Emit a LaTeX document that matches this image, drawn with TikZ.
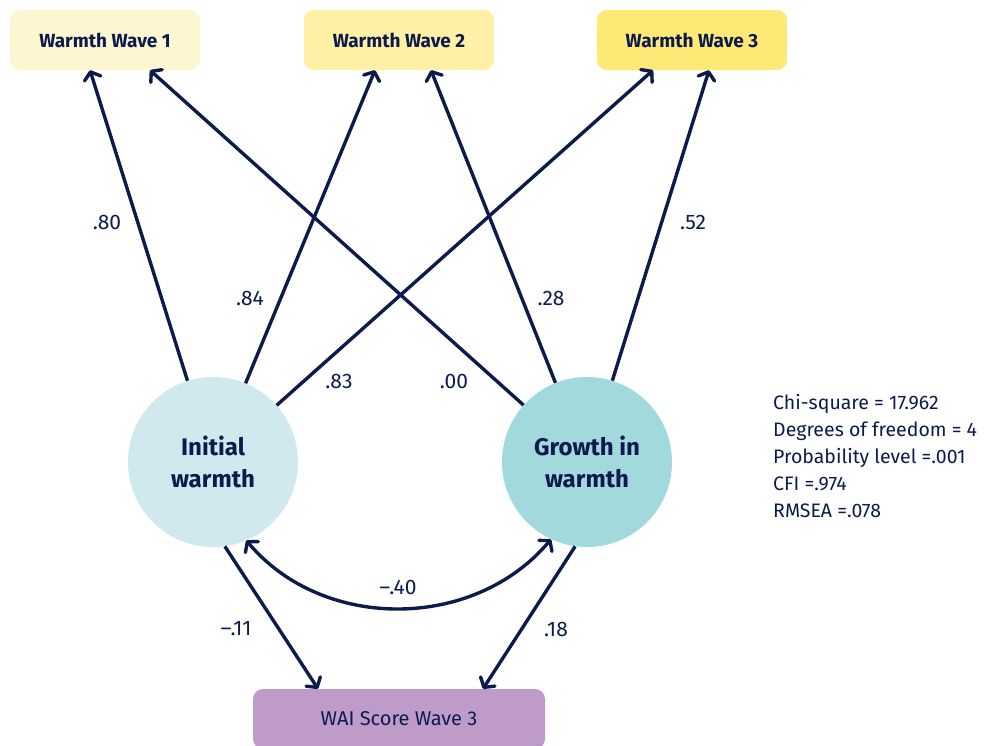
\documentclass[tikz,border=0pt]{standalone}
\usepackage{fontspec}
\setmainfont{Fira Sans}
\usepackage{xcolor}
\usetikzlibrary{arrows.meta, positioning}
\definecolor{navy}{HTML}{0D1B4C}
\definecolor{waveA}{HTML}{FDF7D1}
\definecolor{waveB}{HTML}{FEF0A4}
\definecolor{waveC}{HTML}{FEE876}
\definecolor{initc}{HTML}{D0E9EE}
\definecolor{growc}{HTML}{A1D9DC}
\definecolor{waic}{HTML}{BF9BC9}

\begin{document}
\begin{tikzpicture}[x=1pt, y=-1pt,
    wave/.style={rounded corners=10pt, minimum width=190pt, minimum height=60pt, text=navy,
        font=\fontsize{19}{22}\selectfont\bfseries},
    latent/.style={circle, minimum size=170pt, inner sep=0pt, align=center, text=navy,
        font=\fontsize{24}{32}\selectfont\bfseries},
    link/.style={draw=navy, line width=3.4pt, -{Straight Barb[length=7pt, width=17pt, round]}},
    coef/.style={text=navy, font=\fontsize{21}{24}\selectfont}]
    \useasboundingbox (0,0) rectangle (985,745);

    % Indicatori
    \node[wave, fill=waveA] (wave1) at (105,40) {Warmth Wave 1};
    \node[wave, fill=waveB] (wave2) at (399,40) {Warmth Wave 2};
    \node[wave, fill=waveC] (wave3) at (692,40) {Warmth Wave 3};

    % Fattori latenti
    \node[latent, fill=initc] (initial) at (213,462) {Initial\\warmth};
    \node[latent, fill=growc] (growth) at (587,462) {Growth in\\warmth};

    % Esito
    \node[wave, fill=waic, minimum width=292pt] (wai) at (399,719)
        {\fontsize{20}{22}\selectfont\mdseries WAI Score Wave 3};

    % Saturazioni
    \draw[link] (initial) -- ([xshift=-15pt]wave1.south);
    \draw[link] (initial) -- ([xshift=-24pt]wave2.south);
    \draw[link] (initial) -- ([xshift=-39pt]wave3.south);
    \draw[link] (growth) -- ([xshift=45pt]wave1.south);
    \draw[link] (growth) -- ([xshift=32pt]wave2.south);
    \draw[link] (growth) -- ([xshift=17pt]wave3.south);

    % Regressioni e covarianza
    \draw[link] (initial.-82) -- ([xshift=-81pt]wai.north);
    \draw[link] (growth.-98) -- ([xshift=84pt]wai.north);
    \draw[link, {Straight Barb[length=7pt, width=17pt, round]}-{Straight Barb[length=7pt, width=17pt, round]}]
        (initial.-67) to[out=-50, in=-130] (growth.-115);

    % Coefficienti
    \node[coef] (c80) at (107,222) {.80};
    \node[coef] (c84) at (250,298) {.84};
    \node[coef] (c83) at (339,381) {.83};
    \node[coef] (c00) at (454,381) {.00};
    \node[coef] (c28) at (551,298) {.28};
    \node[coef] (c52) at (693,222) {.52};
    \node[coef] (c11) at (236,629) {–.11};
    \node[coef] (c18) at (556,629) {.18};
    \node[coef] (c40) at (398,587) {–.40};

    % Indici di adattamento
    \node[coef, anchor=north west, align=left, inner sep=0pt,
        font=\fontsize{19.5}{27}\selectfont] (stats) at (773,394)
        {Chi-square = 17.962\\Degrees of freedom = 4\\Probability level =.001\\CFI =.974\\RMSEA =.078};
\end{tikzpicture}
\end{document}
